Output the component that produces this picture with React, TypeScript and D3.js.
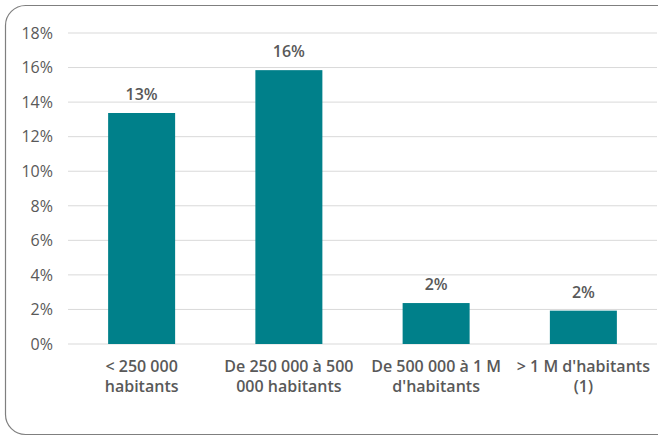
import React from "react";
import * as d3 from "d3";

const categories = [
  ["< 250 000", "habitants"],
  ["De 250 000 à 500", "000 habitants"],
  ["De 500 000 à 1 M", "d'habitants"],
  ["> 1 M d'habitants", "(1)"],
];
const values = [13.37, 15.85, 2.37, 1.93];
const valueLabels = ["13%", "16%", "2%", "2%"];
const yTicks = [0, 2, 4, 6, 8, 10, 12, 14, 16, 18];

export default function App() {
  const W = 658, H = 437;
  const x0 = 68, x1 = 657;
  const yTop = 33, yBot = 344;
  const x = d3.scaleBand<number>().domain(d3.range(values.length)).range([x0, x1]).paddingInner(0.545).paddingOuter(0.2725);
  const y = d3.scaleLinear().domain([0, 18]).range([yBot, yTop]);
  const font = "'Open Sans', sans-serif";
  const grey = "#595959";
  return (
    <svg width={W} height={H} style={{ position: "absolute", left: 0, top: 0 }}>
      <rect x={0} y={0} width={W} height={H} fill="#fff" />
      <rect x={5.5} y={5.5} width={680} height={429} rx={20} ry={20} fill="none" stroke="#7f7f7f" strokeWidth={1.2} />
      {yTicks.map((t) => (
        <g key={t}>
          <line x1={x0} x2={x1} y1={y(t)} y2={y(t)} stroke="#d9d9d9" strokeWidth={1} />
          <text x={53} y={y(t)} dy="0.36em" textAnchor="end" fontFamily={font} fontSize={16} fontWeight={500} fill={grey}>
            {t}%
          </text>
        </g>
      ))}
      {values.map((v, i) => (
        <g key={i}>
          <rect x={x(i)} y={y(v)} width={x.bandwidth()} height={y(0) - y(v)} fill="#00808A" />
          <text x={(x(i) as number) + x.bandwidth() / 2} y={y(v) - 13} textAnchor="middle" fontFamily={font} fontSize={16} fontWeight={600} fill={grey}>
            {valueLabels[i]}
          </text>
          {categories[i].map((line, j) => (
            <text key={j} x={(x(i) as number) + x.bandwidth() / 2} y={372 + j * 20} textAnchor="middle" fontFamily={font} fontSize={16} fontWeight={600} fill={grey}>
              {line}
            </text>
          ))}
        </g>
      ))}
    </svg>
  );
}
